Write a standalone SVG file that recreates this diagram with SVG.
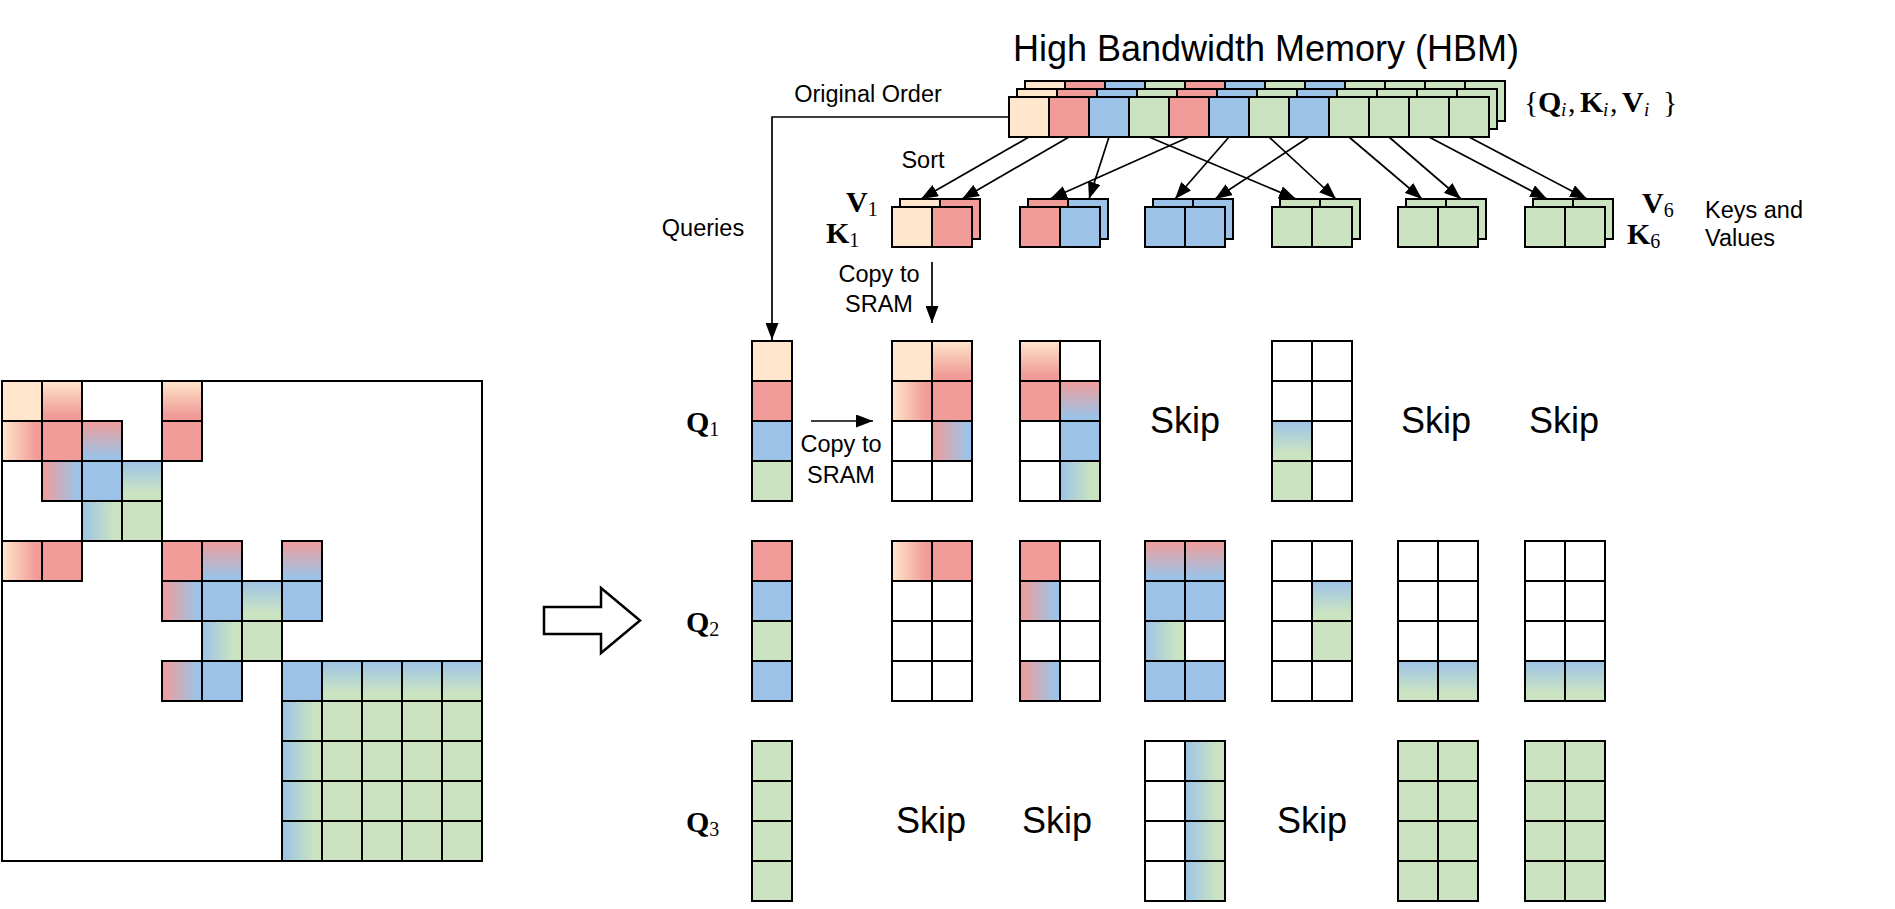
<svg xmlns="http://www.w3.org/2000/svg" width="1895" height="909" viewBox="0 0 1895 909">
<defs>
<linearGradient id="prv" x1="0" y1="0" x2="0" y2="1"><stop offset="0" stop-color="#FFE6CC"/><stop offset="0.85" stop-color="#F19C99"/></linearGradient>
<linearGradient id="prh" x1="0" y1="0" x2="1" y2="0"><stop offset="0" stop-color="#FFE6CC"/><stop offset="0.85" stop-color="#F19C99"/></linearGradient>
<linearGradient id="rbv" x1="0" y1="0" x2="0" y2="1"><stop offset="0" stop-color="#F19C99"/><stop offset="0.9" stop-color="#9CC3E7"/></linearGradient>
<linearGradient id="rbh" x1="0" y1="0" x2="1" y2="0"><stop offset="0" stop-color="#F19C99"/><stop offset="0.9" stop-color="#9CC3E7"/></linearGradient>
<linearGradient id="bgv" x1="0" y1="0" x2="0" y2="1"><stop offset="0" stop-color="#9CC3E7"/><stop offset="0.8" stop-color="#CBE3C1"/></linearGradient>
<linearGradient id="bgh" x1="0" y1="0" x2="1" y2="0"><stop offset="0" stop-color="#9CC3E7"/><stop offset="0.8" stop-color="#CBE3C1"/></linearGradient>
<marker id="ah" markerUnits="userSpaceOnUse" markerWidth="18" markerHeight="13" refX="17" refY="6.5" orient="auto"><path d="M0,0 L17,6.5 L0,13 z" fill="#000"/></marker>
</defs>
<style>
rect{stroke:#000;stroke-width:2}
.pe{fill:#FFE6CC}.re{fill:#F19C99}.bl{fill:#9CC3E7}.gr{fill:#CBE3C1}.wh{fill:#fff}
.prv{fill:url(#prv)}.prh{fill:url(#prh)}.rbv{fill:url(#rbv)}.rbh{fill:url(#rbh)}.bgv{fill:url(#bgv)}.bgh{fill:url(#bgh)}
.cn{fill:none;stroke:#000;stroke-width:1.7}
.ar{marker-end:url(#ah)}
.t{font-family:"Liberation Sans",Arial,sans-serif;fill:#000}
.s23{font-size:23.5px}
.skip{font-size:36px;text-anchor:middle}
.m{font-family:"Liberation Serif","Times New Roman",serif;fill:#000}
.mb{font-weight:bold;font-size:30px}
.sub{font-weight:normal;font-size:20px}
</style>

<g id="attention-matrix">
<rect class="wh" x="2" y="381" width="480" height="480"/>
<rect class="pe" x="2" y="381" width="40" height="40"/><rect class="prv" x="42" y="381" width="40" height="40"/><rect class="prv" x="162" y="381" width="40" height="40"/>
<rect class="prh" x="2" y="421" width="40" height="40"/><rect class="re" x="42" y="421" width="40" height="40"/><rect class="rbv" x="82" y="421" width="40" height="40"/><rect class="re" x="162" y="421" width="40" height="40"/>
<rect class="rbh" x="42" y="461" width="40" height="40"/><rect class="bl" x="82" y="461" width="40" height="40"/><rect class="bgv" x="122" y="461" width="40" height="40"/>
<rect class="bgh" x="82" y="501" width="40" height="40"/><rect class="gr" x="122" y="501" width="40" height="40"/>
<rect class="prh" x="2" y="541" width="40" height="40"/><rect class="re" x="42" y="541" width="40" height="40"/><rect class="re" x="162" y="541" width="40" height="40"/><rect class="rbv" x="202" y="541" width="40" height="40"/><rect class="rbv" x="282" y="541" width="40" height="40"/>
<rect class="rbh" x="162" y="581" width="40" height="40"/><rect class="bl" x="202" y="581" width="40" height="40"/><rect class="bgv" x="242" y="581" width="40" height="40"/><rect class="bl" x="282" y="581" width="40" height="40"/>
<rect class="bgh" x="202" y="621" width="40" height="40"/><rect class="gr" x="242" y="621" width="40" height="40"/>
<rect class="rbh" x="162" y="661" width="40" height="40"/><rect class="bl" x="202" y="661" width="40" height="40"/><rect class="bl" x="282" y="661" width="40" height="40"/><rect class="bgv" x="322" y="661" width="40" height="40"/><rect class="bgv" x="362" y="661" width="40" height="40"/><rect class="bgv" x="402" y="661" width="40" height="40"/><rect class="bgv" x="442" y="661" width="40" height="40"/>
<rect class="bgh" x="282" y="701" width="40" height="40"/><rect class="gr" x="322" y="701" width="40" height="40"/><rect class="gr" x="362" y="701" width="40" height="40"/><rect class="gr" x="402" y="701" width="40" height="40"/><rect class="gr" x="442" y="701" width="40" height="40"/>
<rect class="bgh" x="282" y="741" width="40" height="40"/><rect class="gr" x="322" y="741" width="40" height="40"/><rect class="gr" x="362" y="741" width="40" height="40"/><rect class="gr" x="402" y="741" width="40" height="40"/><rect class="gr" x="442" y="741" width="40" height="40"/>
<rect class="bgh" x="282" y="781" width="40" height="40"/><rect class="gr" x="322" y="781" width="40" height="40"/><rect class="gr" x="362" y="781" width="40" height="40"/><rect class="gr" x="402" y="781" width="40" height="40"/><rect class="gr" x="442" y="781" width="40" height="40"/>
<rect class="bgh" x="282" y="821" width="40" height="40"/><rect class="gr" x="322" y="821" width="40" height="40"/><rect class="gr" x="362" y="821" width="40" height="40"/><rect class="gr" x="402" y="821" width="40" height="40"/><rect class="gr" x="442" y="821" width="40" height="40"/>
</g>

<g id="big-arrow">
<polygon points="544,607 601,607 601,588 640,620.5 601,653 601,634 544,634" fill="#fff" stroke="#000" stroke-width="2.5" stroke-linejoin="miter"/>
</g>

<g id="hbm">
<text class="t" x="1266" y="61" font-size="36" text-anchor="middle">High Bandwidth Memory (HBM)</text>
<g id="hbm-back">
<rect class="pe" x="1025" y="81" width="40" height="40"/><rect class="re" x="1065" y="81" width="40" height="40"/><rect class="bl" x="1105" y="81" width="40" height="40"/><rect class="gr" x="1145" y="81" width="40" height="40"/><rect class="re" x="1185" y="81" width="40" height="40"/><rect class="bl" x="1225" y="81" width="40" height="40"/><rect class="gr" x="1265" y="81" width="40" height="40"/><rect class="bl" x="1305" y="81" width="40" height="40"/><rect class="gr" x="1345" y="81" width="40" height="40"/><rect class="gr" x="1385" y="81" width="40" height="40"/><rect class="gr" x="1425" y="81" width="40" height="40"/><rect class="gr" x="1465" y="81" width="40" height="40"/>
</g>
<g id="hbm-middle">
<rect class="pe" x="1017" y="89" width="40" height="40"/><rect class="re" x="1057" y="89" width="40" height="40"/><rect class="bl" x="1097" y="89" width="40" height="40"/><rect class="gr" x="1137" y="89" width="40" height="40"/><rect class="re" x="1177" y="89" width="40" height="40"/><rect class="bl" x="1217" y="89" width="40" height="40"/><rect class="gr" x="1257" y="89" width="40" height="40"/><rect class="bl" x="1297" y="89" width="40" height="40"/><rect class="gr" x="1337" y="89" width="40" height="40"/><rect class="gr" x="1377" y="89" width="40" height="40"/><rect class="gr" x="1417" y="89" width="40" height="40"/><rect class="gr" x="1457" y="89" width="40" height="40"/>
</g>
<g id="hbm-front">
<rect class="pe" x="1009" y="97" width="40" height="40"/><rect class="re" x="1049" y="97" width="40" height="40"/><rect class="bl" x="1089" y="97" width="40" height="40"/><rect class="gr" x="1129" y="97" width="40" height="40"/><rect class="re" x="1169" y="97" width="40" height="40"/><rect class="bl" x="1209" y="97" width="40" height="40"/><rect class="gr" x="1249" y="97" width="40" height="40"/><rect class="bl" x="1289" y="97" width="40" height="40"/><rect class="gr" x="1329" y="97" width="40" height="40"/><rect class="gr" x="1369" y="97" width="40" height="40"/><rect class="gr" x="1409" y="97" width="40" height="40"/><rect class="gr" x="1449" y="97" width="40" height="40"/>
</g>
<text class="m" y="112" font-size="30"><tspan x="1524">{</tspan><tspan x="1538" font-weight="bold">Q</tspan><tspan x="1561" font-style="italic" font-size="19" dy="4">i</tspan><tspan x="1568" dy="-4">,</tspan><tspan x="1580" font-weight="bold">K</tspan><tspan x="1603" font-style="italic" font-size="19" dy="4">i</tspan><tspan x="1610" dy="-4">,</tspan><tspan x="1622" font-weight="bold">V</tspan><tspan x="1644" font-style="italic" font-size="19" dy="4">i</tspan><tspan x="1663" dy="-4">}</tspan></text>
</g>

<g id="sorted-kv">
<g id="kv1"><rect class="pe" x="900" y="199" width="40" height="40"/><rect class="re" x="940" y="199" width="40" height="40"/><rect class="pe" x="892" y="207" width="40" height="40"/><rect class="re" x="932" y="207" width="40" height="40"/></g>
<g id="kv2"><rect class="re" x="1028" y="199" width="40" height="40"/><rect class="bl" x="1068" y="199" width="40" height="40"/><rect class="re" x="1020" y="207" width="40" height="40"/><rect class="bl" x="1060" y="207" width="40" height="40"/></g>
<g id="kv3"><rect class="bl" x="1153" y="199" width="40" height="40"/><rect class="bl" x="1193" y="199" width="40" height="40"/><rect class="bl" x="1145" y="207" width="40" height="40"/><rect class="bl" x="1185" y="207" width="40" height="40"/></g>
<g id="kv4"><rect class="gr" x="1280" y="199" width="40" height="40"/><rect class="gr" x="1320" y="199" width="40" height="40"/><rect class="gr" x="1272" y="207" width="40" height="40"/><rect class="gr" x="1312" y="207" width="40" height="40"/></g>
<g id="kv5"><rect class="gr" x="1406" y="199" width="40" height="40"/><rect class="gr" x="1446" y="199" width="40" height="40"/><rect class="gr" x="1398" y="207" width="40" height="40"/><rect class="gr" x="1438" y="207" width="40" height="40"/></g>
<g id="kv6"><rect class="gr" x="1533" y="199" width="40" height="40"/><rect class="gr" x="1573" y="199" width="40" height="40"/><rect class="gr" x="1525" y="207" width="40" height="40"/><rect class="gr" x="1565" y="207" width="40" height="40"/></g>
<text class="m mb" x="846" y="212">V<tspan class="sub" dy="4">1</tspan></text>
<text class="m mb" x="826" y="243">K<tspan class="sub" dy="4">1</tspan></text>
<text class="m mb" x="1642" y="213">V<tspan class="sub" dy="4">6</tspan></text>
<text class="m mb" x="1627" y="244">K<tspan class="sub" dy="4">6</tspan></text>
<text class="t s23" x="1705" y="218">Keys and</text>
<text class="t s23" x="1705" y="246">Values</text>
</g>

<g id="labels">
<text class="t s23" x="868" y="102" text-anchor="middle">Original Order</text>
<text class="t s23" x="923" y="168" text-anchor="middle">Sort</text>
<text class="t s23" x="703" y="236" text-anchor="middle">Queries</text>
<text class="t s23" x="879" y="282" text-anchor="middle">Copy to</text>
<text class="t s23" x="879" y="312" text-anchor="middle">SRAM</text>
<text class="t s23" x="841" y="452" text-anchor="middle">Copy to</text>
<text class="t s23" x="841" y="483" text-anchor="middle">SRAM</text>
</g>

<g id="q1-row">
<text class="m mb" x="686" y="432">Q<tspan class="sub" dy="4">1</tspan></text>
<g id="q1"><rect class="pe" x="752" y="341" width="40" height="40"/><rect class="re" x="752" y="381" width="40" height="40"/><rect class="bl" x="752" y="421" width="40" height="40"/><rect class="gr" x="752" y="461" width="40" height="40"/></g>
<g id="q1-t1"><rect class="pe" x="892" y="341" width="40" height="40"/><rect class="prv" x="932" y="341" width="40" height="40"/><rect class="prh" x="892" y="381" width="40" height="40"/><rect class="re" x="932" y="381" width="40" height="40"/><rect class="wh" x="892" y="421" width="40" height="40"/><rect class="rbh" x="932" y="421" width="40" height="40"/><rect class="wh" x="892" y="461" width="40" height="40"/><rect class="wh" x="932" y="461" width="40" height="40"/></g>
<g id="q1-t2"><rect class="prv" x="1020" y="341" width="40" height="40"/><rect class="wh" x="1060" y="341" width="40" height="40"/><rect class="re" x="1020" y="381" width="40" height="40"/><rect class="rbv" x="1060" y="381" width="40" height="40"/><rect class="wh" x="1020" y="421" width="40" height="40"/><rect class="bl" x="1060" y="421" width="40" height="40"/><rect class="wh" x="1020" y="461" width="40" height="40"/><rect class="bgh" x="1060" y="461" width="40" height="40"/></g>
<text class="t skip" x="1185" y="433">Skip</text>
<g id="q1-t4"><rect class="wh" x="1272" y="341" width="40" height="40"/><rect class="wh" x="1312" y="341" width="40" height="40"/><rect class="wh" x="1272" y="381" width="40" height="40"/><rect class="wh" x="1312" y="381" width="40" height="40"/><rect class="bgv" x="1272" y="421" width="40" height="40"/><rect class="wh" x="1312" y="421" width="40" height="40"/><rect class="gr" x="1272" y="461" width="40" height="40"/><rect class="wh" x="1312" y="461" width="40" height="40"/></g>
<text class="t skip" x="1436" y="433">Skip</text>
<text class="t skip" x="1564" y="433">Skip</text>
</g>

<g id="q2-row">
<text class="m mb" x="686" y="632">Q<tspan class="sub" dy="4">2</tspan></text>
<g id="q2"><rect class="re" x="752" y="541" width="40" height="40"/><rect class="bl" x="752" y="581" width="40" height="40"/><rect class="gr" x="752" y="621" width="40" height="40"/><rect class="bl" x="752" y="661" width="40" height="40"/></g>
<g id="q2-t1"><rect class="prh" x="892" y="541" width="40" height="40"/><rect class="re" x="932" y="541" width="40" height="40"/><rect class="wh" x="892" y="581" width="40" height="40"/><rect class="wh" x="932" y="581" width="40" height="40"/><rect class="wh" x="892" y="621" width="40" height="40"/><rect class="wh" x="932" y="621" width="40" height="40"/><rect class="wh" x="892" y="661" width="40" height="40"/><rect class="wh" x="932" y="661" width="40" height="40"/></g>
<g id="q2-t2"><rect class="re" x="1020" y="541" width="40" height="40"/><rect class="wh" x="1060" y="541" width="40" height="40"/><rect class="rbh" x="1020" y="581" width="40" height="40"/><rect class="wh" x="1060" y="581" width="40" height="40"/><rect class="wh" x="1020" y="621" width="40" height="40"/><rect class="wh" x="1060" y="621" width="40" height="40"/><rect class="rbh" x="1020" y="661" width="40" height="40"/><rect class="wh" x="1060" y="661" width="40" height="40"/></g>
<g id="q2-t3"><rect class="rbv" x="1145" y="541" width="40" height="40"/><rect class="rbv" x="1185" y="541" width="40" height="40"/><rect class="bl" x="1145" y="581" width="40" height="40"/><rect class="bl" x="1185" y="581" width="40" height="40"/><rect class="bgh" x="1145" y="621" width="40" height="40"/><rect class="wh" x="1185" y="621" width="40" height="40"/><rect class="bl" x="1145" y="661" width="40" height="40"/><rect class="bl" x="1185" y="661" width="40" height="40"/></g>
<g id="q2-t4"><rect class="wh" x="1272" y="541" width="40" height="40"/><rect class="wh" x="1312" y="541" width="40" height="40"/><rect class="wh" x="1272" y="581" width="40" height="40"/><rect class="bgv" x="1312" y="581" width="40" height="40"/><rect class="wh" x="1272" y="621" width="40" height="40"/><rect class="gr" x="1312" y="621" width="40" height="40"/><rect class="wh" x="1272" y="661" width="40" height="40"/><rect class="wh" x="1312" y="661" width="40" height="40"/></g>
<g id="q2-t5"><rect class="wh" x="1398" y="541" width="40" height="40"/><rect class="wh" x="1438" y="541" width="40" height="40"/><rect class="wh" x="1398" y="581" width="40" height="40"/><rect class="wh" x="1438" y="581" width="40" height="40"/><rect class="wh" x="1398" y="621" width="40" height="40"/><rect class="wh" x="1438" y="621" width="40" height="40"/><rect class="bgv" x="1398" y="661" width="40" height="40"/><rect class="bgv" x="1438" y="661" width="40" height="40"/></g>
<g id="q2-t6"><rect class="wh" x="1525" y="541" width="40" height="40"/><rect class="wh" x="1565" y="541" width="40" height="40"/><rect class="wh" x="1525" y="581" width="40" height="40"/><rect class="wh" x="1565" y="581" width="40" height="40"/><rect class="wh" x="1525" y="621" width="40" height="40"/><rect class="wh" x="1565" y="621" width="40" height="40"/><rect class="bgv" x="1525" y="661" width="40" height="40"/><rect class="bgv" x="1565" y="661" width="40" height="40"/></g>
</g>

<g id="q3-row">
<text class="m mb" x="686" y="832">Q<tspan class="sub" dy="4">3</tspan></text>
<g id="q3"><rect class="gr" x="752" y="741" width="40" height="40"/><rect class="gr" x="752" y="781" width="40" height="40"/><rect class="gr" x="752" y="821" width="40" height="40"/><rect class="gr" x="752" y="861" width="40" height="40"/></g>
<text class="t skip" x="931" y="833">Skip</text>
<text class="t skip" x="1057" y="833">Skip</text>
<g id="q3-t3"><rect class="wh" x="1145" y="741" width="40" height="40"/><rect class="bgh" x="1185" y="741" width="40" height="40"/><rect class="wh" x="1145" y="781" width="40" height="40"/><rect class="bgh" x="1185" y="781" width="40" height="40"/><rect class="wh" x="1145" y="821" width="40" height="40"/><rect class="bgh" x="1185" y="821" width="40" height="40"/><rect class="wh" x="1145" y="861" width="40" height="40"/><rect class="bgh" x="1185" y="861" width="40" height="40"/></g>
<text class="t skip" x="1312" y="833">Skip</text>
<g id="q3-t5"><rect class="gr" x="1398" y="741" width="40" height="40"/><rect class="gr" x="1438" y="741" width="40" height="40"/><rect class="gr" x="1398" y="781" width="40" height="40"/><rect class="gr" x="1438" y="781" width="40" height="40"/><rect class="gr" x="1398" y="821" width="40" height="40"/><rect class="gr" x="1438" y="821" width="40" height="40"/><rect class="gr" x="1398" y="861" width="40" height="40"/><rect class="gr" x="1438" y="861" width="40" height="40"/></g>
<g id="q3-t6"><rect class="gr" x="1525" y="741" width="40" height="40"/><rect class="gr" x="1565" y="741" width="40" height="40"/><rect class="gr" x="1525" y="781" width="40" height="40"/><rect class="gr" x="1565" y="781" width="40" height="40"/><rect class="gr" x="1525" y="821" width="40" height="40"/><rect class="gr" x="1565" y="821" width="40" height="40"/><rect class="gr" x="1525" y="861" width="40" height="40"/><rect class="gr" x="1565" y="861" width="40" height="40"/></g>
</g>

<g id="connectors">
<path class="cn ar" d="M1009,117 H772 V340"/>
<path class="cn ar" d="M932,262 V323"/>
<path class="cn ar" d="M811,421 H873"/>
<line class="cn ar" x1="1029" y1="137" x2="921" y2="199"/>
<line class="cn ar" x1="1069" y1="137" x2="962" y2="199"/>
<line class="cn ar" x1="1109" y1="137" x2="1089" y2="199"/>
<line class="cn ar" x1="1149" y1="137" x2="1296" y2="199"/>
<line class="cn ar" x1="1189" y1="137" x2="1050" y2="199"/>
<line class="cn ar" x1="1229" y1="137" x2="1175" y2="199"/>
<line class="cn ar" x1="1269" y1="137" x2="1336" y2="199"/>
<line class="cn ar" x1="1309" y1="137" x2="1215" y2="199"/>
<line class="cn ar" x1="1349" y1="137" x2="1422" y2="199"/>
<line class="cn ar" x1="1389" y1="137" x2="1461" y2="199"/>
<line class="cn ar" x1="1429" y1="137" x2="1547" y2="199"/>
<line class="cn ar" x1="1469" y1="137" x2="1587" y2="199"/>
</g>
</svg>
